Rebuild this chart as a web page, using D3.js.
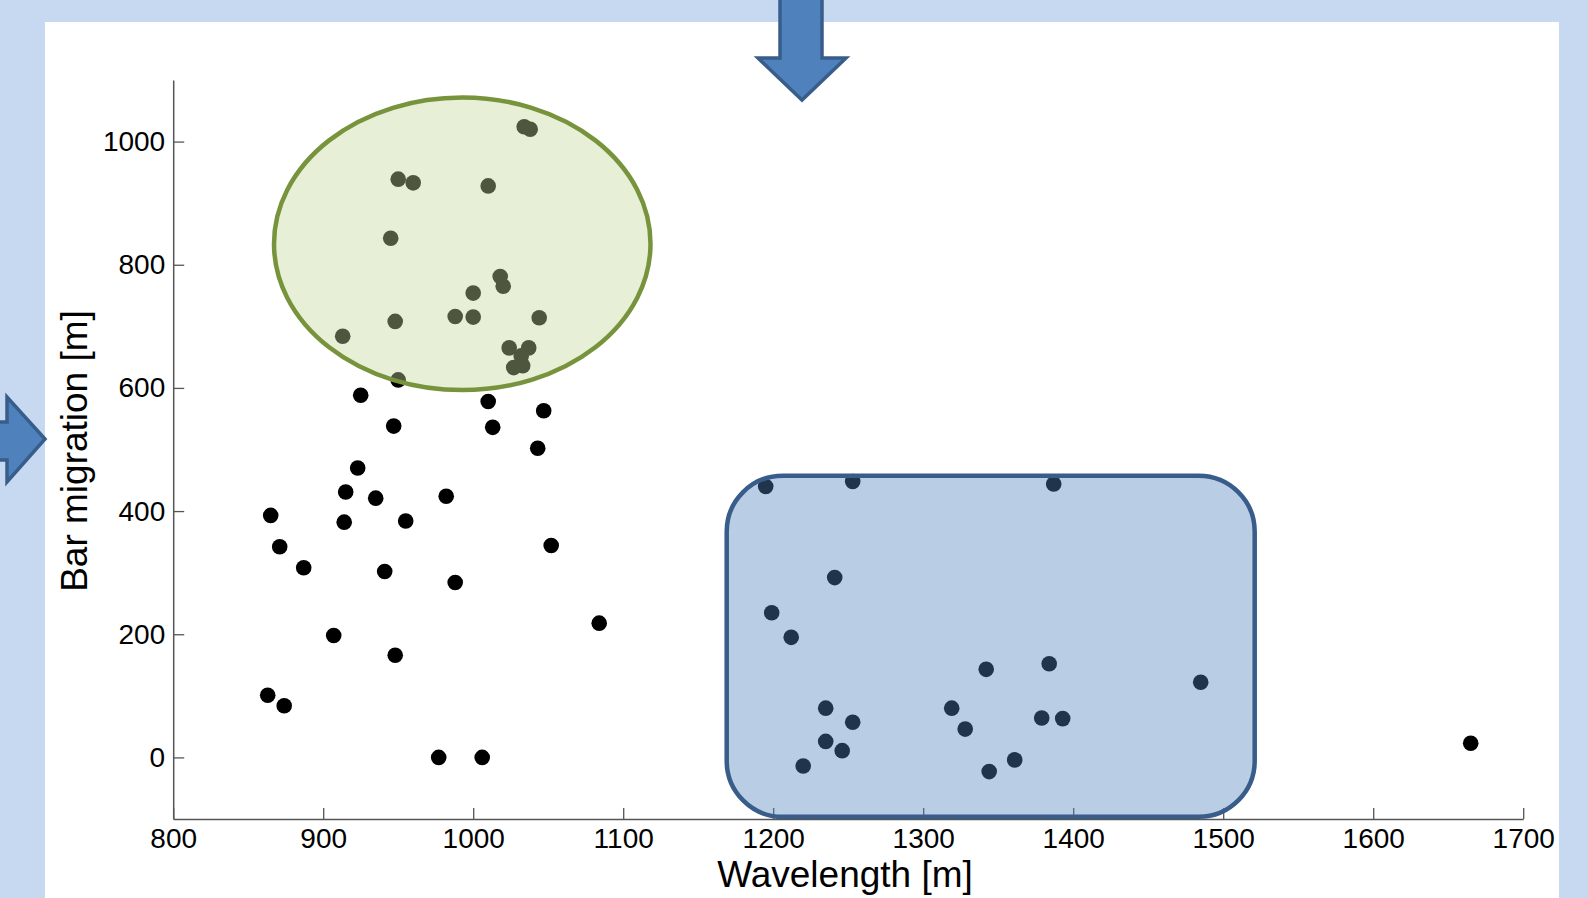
<!DOCTYPE html>
<html>
<head>
<meta charset="utf-8">
<script src="https://cdn.jsdelivr.net/npm/d3@7"></script>
<style>
  body { margin: 0; background: #c6d9f1; }
  svg { display: block; font-family: "Liberation Sans", Arial, sans-serif; }
</style>
</head>
<body>
<div id="chart"></div>
<script>
// wavelength [m] and bar migration [m]
const wavelength = [
  1034, 1038, 950, 960, 1010, 945, 1018, 1020, 1000, 988, 1000, 948, 1044, 913, 1024, 1037, 1032, 1027, 1033, 950,
  925, 1010, 1047, 947, 1013, 1043, 923, 915, 935, 982, 865, 914, 955, 871, 887, 941, 1052, 988, 907, 948, 1084,
  863, 874, 977, 1006,
  1195, 1253, 1387, 1241, 1199, 1212, 1342, 1384, 1485, 1235, 1319, 1253, 1379, 1393, 1328, 1235, 1246, 1220,
  1361, 1344,
  1665
];
const migration = [
  1024, 1020, 939, 933, 928, 843, 781, 765, 754, 716, 715, 708, 714, 684, 665, 665, 652, 633, 636, 613,
  588, 578, 563, 538, 536, 502, 470, 431, 421, 424, 393, 382, 384, 342, 308, 302, 344, 284, 198, 166, 218,
  101, 84, 0, 0,
  440, 448, 444, 292, 235, 195, 143, 152, 122, 80, 80, 57, 64, 63, 46, 26, 11, -14,
  -4, -23,
  23
];

const xTicks = [800, 900, 1000, 1100, 1200, 1300, 1400, 1500, 1600, 1700];
const yTicks = [0, 200, 400, 600, 800, 1000];

// highlight shapes, in data units
const ellipseArea = { cx: 992.7, cy: 834, rx: 125.5, ry: 237.5 };
const boxArea = { x0: 1169, x1: 1521, y0: -96.5, y1: 457.5 };

const W = 1588, H = 898;

const svg = d3.select("#chart").append("svg")
    .attr("width", W)
    .attr("height", H);

svg.append("rect")
    .attr("width", W).attr("height", H)
    .attr("fill", "#c6d9f1");

svg.append("rect")
    .attr("x", 45).attr("y", 22)
    .attr("width", 1559 - 45).attr("height", H - 22)
    .attr("fill", "white");

const x = d3.scaleLinear().domain([800, 1700]).range([173.2, 1523.2]);
const y = d3.scaleLinear().domain([-100, 1100]).range([819, 80]);

const xAxis = svg.append("g")
    .attr("transform", `translate(0,${y(-100)})`)
    .call(d3.axisBottom(x).tickValues(xTicks).tickFormat(d3.format("d"))
        .tickSizeInner(-11).tickSizeOuter(0).tickPadding(9));

const yAxis = svg.append("g")
    .attr("transform", `translate(${x(800)},0)`)
    .call(d3.axisLeft(y).tickValues(yTicks).tickFormat(d3.format("d"))
        .tickSizeInner(-11).tickSizeOuter(0).tickPadding(8));

[xAxis, yAxis].forEach(a => {
    a.select(".domain").attr("stroke", "#555").attr("stroke-width", 1.5);
    a.selectAll(".tick line").attr("stroke", "#555").attr("stroke-width", 1.3);
    a.selectAll(".tick text")
        .attr("fill", "black")
        .style("font-size", "28px")
        .style("font-family", '"Liberation Sans", Arial, sans-serif');
});

// the points
svg.append("g")
    .selectAll("circle")
    .data(wavelength.map((w, i) => ({ w, m: migration[i] })))
    .join("circle")
    .attr("cx", d => x(d.w))
    .attr("cy", d => y(d.m))
    .attr("r", 7.8)
    .attr("fill", "black");

// translucent highlights drawn over the points
svg.append("ellipse")
    .attr("cx", x(ellipseArea.cx))
    .attr("cy", y(ellipseArea.cy))
    .attr("rx", x(ellipseArea.cx + ellipseArea.rx) - x(ellipseArea.cx))
    .attr("ry", y(ellipseArea.cy) - y(ellipseArea.cy + ellipseArea.ry))
    .attr("fill", "#c3d69b")
    .attr("fill-opacity", 0.4)
    .attr("stroke", "#77933c")
    .attr("stroke-width", 4.5);

svg.append("rect")
    .attr("x", x(boxArea.x0))
    .attr("y", y(boxArea.y1))
    .attr("width", x(boxArea.x1) - x(boxArea.x0))
    .attr("height", y(boxArea.y0) - y(boxArea.y1))
    .attr("rx", 56).attr("ry", 56)
    .attr("fill", "#4f81bd")
    .attr("fill-opacity", 0.4)
    .attr("stroke", "#385d8a")
    .attr("stroke-width", 4.5);

// axis titles
svg.append("text")
    .attr("x", 845)
    .attr("y", 887)
    .attr("text-anchor", "middle")
    .style("font-size", "37px")
    .attr("fill", "black")
    .text("Wavelength [m]");

svg.append("text")
    .attr("transform", "translate(87,451) rotate(-90)")
    .attr("text-anchor", "middle")
    .style("font-size", "37px")
    .attr("fill", "black")
    .text("Bar migration [m]");

// arrows pointing at the axes
const arrowDown = [[780, -5], [822, -5], [822, 58], [846, 58], [802, 100], [758, 58], [780, 58]];
const arrowRight = [[-10, 422], [7, 422], [7, 397], [45, 439], [7, 482], [7, 460], [-10, 460]];

[arrowDown, arrowRight].forEach(pts => {
    svg.append("path")
        .attr("d", d3.line()(pts) + "Z")
        .attr("fill", "#4f81bd")
        .attr("stroke", "#385d8a")
        .attr("stroke-width", 3.5)
        .attr("stroke-linejoin", "miter");
});
</script>
</body>
</html>
